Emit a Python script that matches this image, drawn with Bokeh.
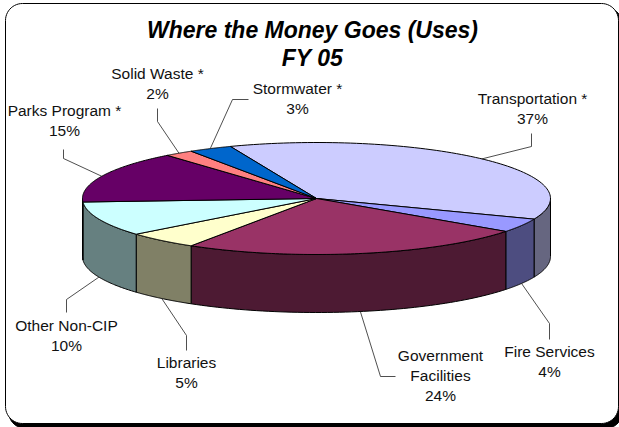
import numpy as np
from bokeh.core.properties import value
from bokeh.embed import file_html
from bokeh.models import Range1d
from bokeh.plotting import figure
from bokeh.resources import INLINE

# Capital budget uses, FY 05, in percent, clockwise from Transportation
categories = ["Transportation *", "Fire Services", "Government\nFacilities", "Libraries",
              "Other Non-CIP", "Parks Program *", "Solid Waste *", "Stormwater *"]
shares = [37, 4, 24, 5, 10, 15, 2, 3]
top_colors = ["#CCCCFF", "#9999FF", "#993366", "#FFFFCC", "#CCFFFF", "#660066", "#FF8080", "#0066CC"]
side_colors = ["#666680", "#4D4D80", "#4D1A33", "#808066", "#668080", "#330033", "#804040", "#003366"]

# Pixel layout of the tilted disc
W, H = 619, 427
CX, CY, RX, RY, DEPTH = 316, 198, 234, 56, 58
START_DEG = -21.6

# Label anchors (centre x, first-line y) and leader elbows
label_pos = [(532, 98), (549, 351), (440, 355), (186, 362), (66, 325), (64, 110), (157, 73), (297, 88)]
elbows = [[(531, 146), (531, 133)], [(549, 323), (549, 339)], [(380, 376), (395, 376)],
          [(186, 335), (186, 350)], [(66, 299), (66, 312)], [(63, 158), (63, 149)],
          [(157, 121), (157, 108)], [(232, 99), (248, 99)]]


def rim(deg):
    t = np.radians(deg)
    return CX + RX * np.sin(t), CY - RY * np.cos(t)


def rounded_box(x0, y0, x1, y1, r):
    a = np.radians(np.linspace(0, 90, 14))
    xs = np.concatenate([x1 - r + r * np.sin(a), x1 - r + r * np.cos(a),
                         x0 + r - r * np.sin(a), x0 + r - r * np.cos(a)])
    ys = np.concatenate([y0 + r - r * np.cos(a), y1 - r + r * np.sin(a),
                         y1 - r + r * np.cos(a), y0 + r - r * np.sin(a)])
    return xs, ys


p = figure(width=W, height=H, output_backend="svg", toolbar_location=None,
           x_range=Range1d(0, W), y_range=Range1d(H, 0), min_border=0,
           outline_line_color=None, background_fill_color="white", border_fill_color="white")
p.axis.visible = False
p.grid.visible = False

# Card with a drop shadow along the bottom
sx, sy = rounded_box(8, 7, 622, 428, 17)
p.patch(sx, sy, fill_color="black", line_color="black", line_width=1)
bx, by = rounded_box(5, 3, 618, 423, 17)
p.patch(bx, by, fill_color="white", line_color="black", line_width=1)

edges = START_DEG + np.cumsum([0] + shares) * 3.6

# Rim wall of the disc: only the part facing the viewer (90 to 270 degrees)
for i in range(len(shares)):
    lo, hi = max(edges[i], 90), min(edges[i + 1], 270)
    if hi <= lo:
        continue
    x, y = rim(np.linspace(lo, hi, 60))
    p.patch(np.concatenate([x, x[::-1]]), np.concatenate([y, y[::-1] + DEPTH]),
            fill_color=side_colors[i], line_color="black", line_width=1)

# Top face wedges
for i in range(len(shares)):
    x, y = rim(np.linspace(edges[i], edges[i + 1], 90))
    p.patch(np.concatenate([[CX], x]), np.concatenate([[CY], y]),
            fill_color=top_colors[i], line_color="black", line_width=1)

# Leaders start at each slice's mid angle, on the lower rim when it faces the viewer
for i in range(len(shares)):
    mid = (edges[i] + edges[i + 1]) / 2
    x0, y0 = rim(mid)
    if 90 < mid < 270:
        y0 += DEPTH
    xs = [float(x0)] + [e[0] for e in elbows[i]]
    ys = [float(y0)] + [e[1] for e in elbows[i]]
    p.line(xs, ys, line_color="#222222", line_width=0.8)

# Data labels: category lines followed by the percentage
for i, name in enumerate(categories):
    lines = name.split("\n") + [f"{shares[i]}%"]
    lx, ly = label_pos[i]
    for k, line in enumerate(lines):
        p.text([lx], [ly + 20 * k], text=[line], text_font=value("Liberation Sans"),
               text_font_size="15.5px", text_color="#111111",
               text_align="center", text_baseline="middle")

title_lines = ["Where the Money Goes (Uses)", "FY 05"]
title_y = [29, 57]
for line, y in zip(title_lines, title_y):
    p.text([312], [y], text=[line], text_font=value("Liberation Sans"),
           text_font_size="23px", text_font_style="bold italic", text_color="black",
           text_align="center", text_baseline="middle")

open("out.html", "w").write(file_html(p, INLINE))
